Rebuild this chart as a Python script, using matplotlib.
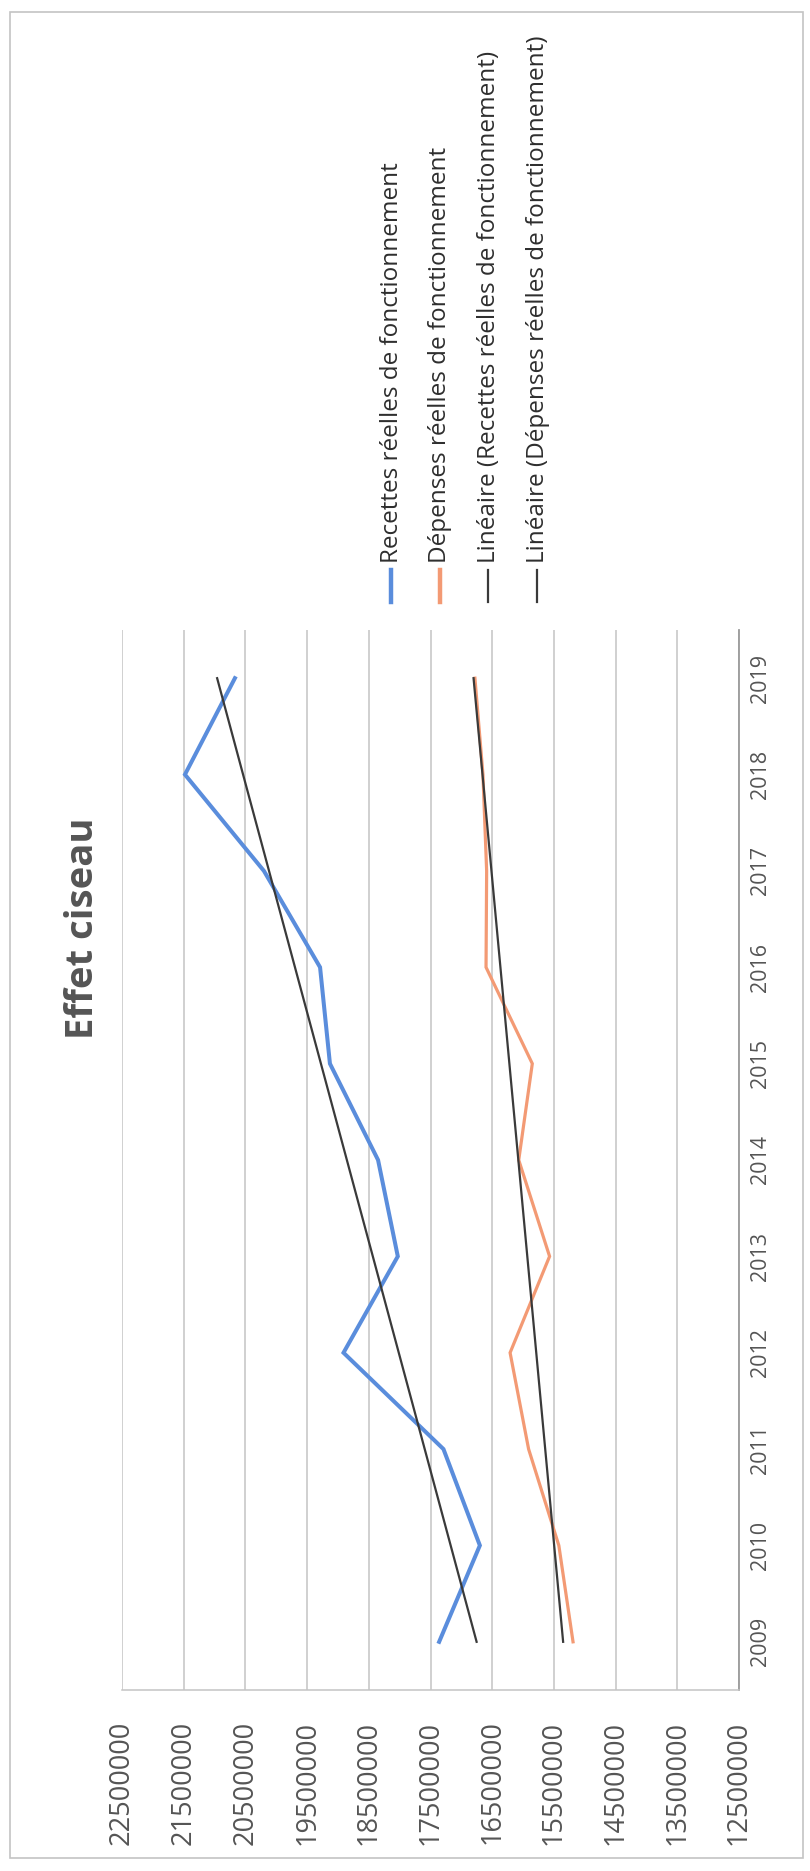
import numpy as np
import matplotlib
matplotlib.use("Agg")
import matplotlib.pyplot as plt
from matplotlib.lines import Line2D
from matplotlib.patches import Rectangle

plt.rcParams['font.family'] = ['Open Sans', 'DejaVu Sans']

# Data
years = ['2009', '2010', '2011', '2012', '2013', '2014', '2015', '2016', '2017', '2018', '2019']
recettes = [17360000, 16700000, 17290000, 18910000, 18030000, 18350000,
            19130000, 19290000, 20200000, 21480000, 20670000]
depenses = [15190000, 15420000, 15910000, 16210000, 15570000, 16070000,
            15850000, 16600000, 16590000, 16650000, 16780000]
value_ticks = [22500000, 21500000, 20500000, 19500000, 18500000, 17500000,
               16500000, 15500000, 14500000, 13500000, 12500000]

title = 'Effet ciseau'
legend_labels = ['Recettes réelles de fonctionnement',
                 'Dépenses réelles de fonctionnement',
                 'Linéaire (Recettes réelles de fonctionnement)',
                 'Linéaire (Dépenses réelles de fonctionnement)']

BLUE = '#5a8ddc'
ORANGE = '#f39a74'
TREND = '#3a3a3a'
GRID = '#c4c4c4'
TEXT = '#555555'

W, H = 810, 1871
fig = plt.figure(figsize=(W / 100, H / 100), dpi=100)


def fx(px):
    return px / W


def fy(py):
    return 1 - py / H


# Chart area border
fig.add_artist(Rectangle((fx(10), fy(1858)), fx(793), (1858 - 12) / H,
                         transform=fig.transFigure, fill=False,
                         edgecolor='#c4c4c4', linewidth=1.2))

# Rotated chart: values run horizontally (high on the left), years vertically
left, right, top, bottom = 122, 739, 630, 1690
ax = fig.add_axes([fx(left), fy(bottom), fx(right - left), (bottom - top) / H])

idx = np.arange(len(years))
ax.plot(recettes, idx, color=BLUE, lw=2.9, solid_joinstyle='miter', zorder=3)
ax.plot(depenses, idx, color=ORANGE, lw=2.3, solid_joinstyle='miter', zorder=3)

# Linear trend lines fitted on each series
for series in (recettes, depenses):
    a, b = np.polyfit(idx, series, 1)
    ax.plot(a * idx + b, idx, color=TREND, lw=1.6, zorder=4)

ax.set_xlim(max(value_ticks), min(value_ticks))
ax.set_ylim(-0.5, len(years) - 0.5)

ax.set_xticks(value_ticks)
ax.set_xticklabels([str(v) for v in value_ticks], rotation=90,
                   fontsize=19.5, color=TEXT)
ax.tick_params(axis='x', length=0, pad=22)
ax.grid(axis='x', color=GRID, lw=1.1)
ax.set_axisbelow(True)

ax.yaxis.tick_right()
ax.set_yticks(idx)
ax.set_yticklabels(years, rotation=90, va='center', fontsize=15.5,
                   color=TEXT, fontweight='medium')
ax.tick_params(axis='y', length=0, pad=8)

for s in ('left', 'top'):
    ax.spines[s].set_visible(False)
ax.spines['right'].set_color('#9a9a9a')
ax.spines['right'].set_linewidth(1.3)
ax.spines['bottom'].set_color(GRID)
ax.spines['bottom'].set_linewidth(1.1)

# Title
fig.text(fx(83), fy(928), title, rotation=90, ha='center', va='center',
         fontsize=27.5, fontweight='bold', color=TEXT)

# Legend drawn vertically
styles = [(BLUE, 3.2), (ORANGE, 3.2), (TREND, 1.6), (TREND, 1.6)]
for i, (label, (color, lw)) in enumerate(zip(legend_labels, styles)):
    x = 391 + 48.5 * i
    fig.add_artist(Line2D([fx(x), fx(x)], [fy(602), fy(570)],
                          transform=fig.transFigure, color=color, lw=lw))
    fig.text(fx(x + 1), fy(563), label, rotation=90, ha='center', va='bottom',
             fontsize=17.5, color='#2e2e2e')

fig.savefig('out.png', dpi=100, facecolor='white')
